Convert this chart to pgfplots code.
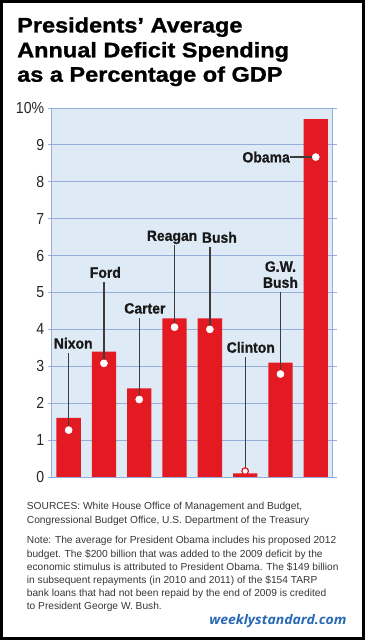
\documentclass[border=0pt]{standalone}
\usepackage{fontspec}
\setmainfont{Liberation Sans}
\newfontfamily\tickfont[FakeStretch=0.88]{Liberation Sans}
\newfontfamily\labfont[FakeStretch=0.93, FakeBold=0.8]{Liberation Sans}
\newfontfamily\titlefont[FakeStretch=1.12, FakeBold=1.2]{Liberation Sans}
\newfontfamily\webfont[FakeStretch=1.06]{Open Sans}
\usepackage{pgfplots}
\pgfplotsset{compat=1.18}
\definecolor{barred}{RGB}{228,26,34}
\definecolor{bgblue}{RGB}{222,235,246}
\definecolor{gridblue}{RGB}{150,172,218}
\definecolor{callgray}{RGB}{60,60,60}
\definecolor{txtgray}{RGB}{55,55,55}
\definecolor{webblue}{RGB}{40,105,180}
\tikzset{lab/.style={font=\labfont\bfseries\fontsize{15}{16}\selectfont, text=black!90, inner sep=0pt}}
\begin{document}
\begin{tikzpicture}
\fill[black] (0,0) rectangle (365pt,640pt);
\fill[white] (3pt,3pt) rectangle (362pt,637pt);
\tikzset{ttl/.style={anchor=base west, inner sep=0pt, font=\titlefont\bfseries\fontsize{21}{24}\selectfont}}
\node[ttl] at (17pt,607.5pt) {Presidents’ Average};
\node[ttl] at (17pt,582.7pt) {Annual Deficit Spending};
\node[ttl] at (17pt,558.3pt) {as a Percentage of GDP};
\begin{axis}[
  at={(51.7pt,163pt)}, anchor=south west,
  scale only axis, width=281pt, height=369pt,
  xmin=-0.48, xmax=7.48, ymin=0, ymax=10,
  axis background/.style={fill=bgblue},
  axis line style={gridblue, line width=0.8pt},
  xtick=\empty,
  ytick={0,1,2,3,4,5,6,7,8,9,10},
  yticklabels={0,1,2,3,4,5,6,7,8,9,10\%},
  ymajorgrids, grid style={gridblue, line width=0.8pt},
  tick style={gridblue, line width=0.8pt},
  tick align=outside, major tick length=4pt,
  ytick pos=both, yticklabel pos=left,
  yticklabel style={font=\tickfont\fontsize{16}{16}\selectfont, text=black!85},
  clip=false,
  unbounded coords=jump,
]
\addplot[ybar, bar width=24.3pt, fill=barred, draw=none] coordinates {
 (0,1.6) (1,3.4) (2,2.4) (3,4.3) (4,4.3) (5,0.1) (6,3.1) (7,9.7)};
\addplot[callgray, line width=1.3pt] coordinates {
 (0,1.27) (0,3.37) (0,nan)
 (1,3.08) (1,5.29) (1,nan)
 (2,2.1) (2,4.32) (2,nan)
 (3,4.06) (3,6.29) (3,nan)
 (4,4.0) (4,6.24) (4,nan)
 (5,0.16) (5,3.26) (5,nan)
 (6,2.79) (6,5.02) (6,nan)
 (6.27,8.67) (7,8.67)};
\addplot[only marks, mark=*, mark size=3.6pt, mark options={fill=white, draw=white}] coordinates {
 (0,1.27) (1,3.08) (2,2.1) (3,4.06) (4,4.0) (6,2.79) (7,8.67)};
\addplot[only marks, mark=*, mark size=3.3pt, mark options={fill=white, draw=barred, line width=1.2pt}] coordinates {(5,0.16)};
\node[lab, anchor=base, yshift=4pt] at (axis cs:0.13,3.37) {Nixon};
\node[lab, anchor=base, yshift=4pt] at (axis cs:1.04,5.29) {Ford};
\node[lab, anchor=base, yshift=4pt] at (axis cs:2.16,4.32) {Carter};
\node[lab, anchor=base, yshift=4pt] at (axis cs:2.93,6.29) {Reagan};
\node[lab, anchor=base, yshift=4pt] at (axis cs:4.27,6.24) {Bush};
\node[lab, anchor=base, yshift=4pt] at (axis cs:5.16,3.26) {Clinton};
\node[lab, anchor=base, yshift=4pt] at (axis cs:6,5.02) {Bush};
\node[lab, anchor=base, yshift=20pt] at (axis cs:6,5.02) {G.W.};
\node[lab, anchor=east] at (axis cs:6.27,8.67) {Obama};
\end{axis}
\tikzset{src/.style={anchor=base west, inner sep=0pt, text=txtgray, font=\fontsize{10.2}{13}\selectfont}}
\node[src] at (26.7pt,130pt) {SOURCES: White House Office of Management and Budget,};
\node[src] at (26.7pt,116.7pt) {Congressional Budget Office, U.S. Department of the Treasury};
\node[src] at (26.7pt,96pt) {Note: The average for President Obama includes his proposed 2012};
\node[src] at (26.7pt,82.8pt) {budget. The \$200 billion that was added to the 2009 deficit by the};
\node[src] at (26.7pt,69.6pt) {economic stimulus is attributed to President Obama. The \$149 billion};
\node[src] at (26.7pt,56.4pt) {in subsequent repayments (in 2010 and 2011) of the \$154 TARP};
\node[src] at (26.7pt,43.2pt) {bank loans that had not been repaid by the end of 2009 is credited};
\node[src] at (26.7pt,30pt) {to President George W. Bush.};
\node[anchor=base east, inner sep=0pt, text=webblue, font=\webfont\bfseries\itshape\fontsize{13.2}{14}\selectfont] at (346.7pt,15pt) {weeklystandard.com};
\end{tikzpicture}
\end{document}
